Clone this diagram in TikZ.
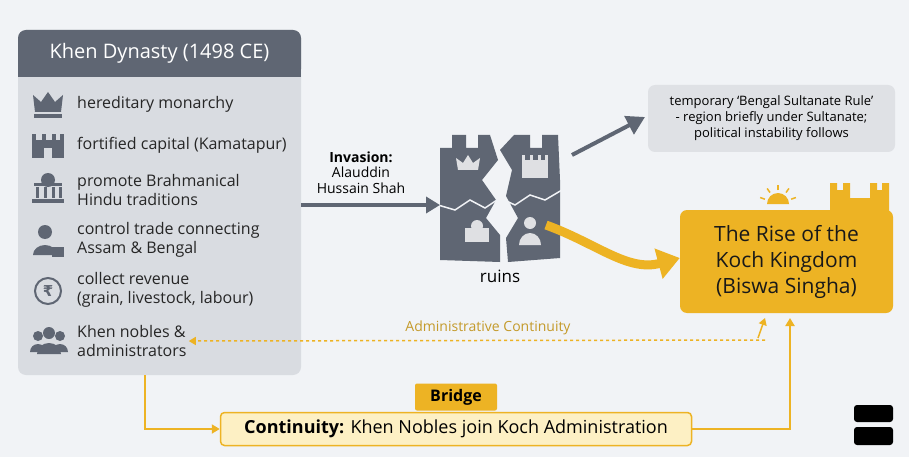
\documentclass[tikz,border=0pt]{standalone}
\usepackage{fontspec}
\setmainfont{Open Sans}
\newfontfamily\symfont{DejaVu Sans}
\usetikzlibrary{positioning,arrows.meta,calc}
\definecolor{bgc}{HTML}{F1F3F6}
\definecolor{slate}{HTML}{5F6673}
\definecolor{panel}{HTML}{D9DCE1}
\definecolor{gold}{HTML}{EDB324}
\definecolor{goldtxt}{HTML}{C49A2A}
\definecolor{cream}{HTML}{FDF0C4}
\definecolor{note}{HTML}{DFE1E5}
\tikzset{
  item/.style = {anchor = west, align = left, font = \fontsize{16}{19}\selectfont, text = black!85, inner sep = 2pt},
  icon/.style = {fill = slate, draw = none},
  goldarrow/.style = {draw = gold, line width = 2pt, -{Triangle[length = 8pt, width = 9pt]}},
}
\begin{document}
\begin{tikzpicture}[x = 1pt, y = -1pt]
\fill[bgc] (0,0) rectangle (909,457);

%%% Khen panel
\fill[panel, rounded corners = 8pt] (18,30) rectangle (301,375);
\fill[slate, rounded corners = 8pt] (18,30) rectangle (301,77);
\fill[slate] (18,60) rectangle (301,77);
\node[text = white, font = \fontsize{20}{23}\selectfont] (title) at (159.5,53) {Khen Dynasty (1498 CE)};

\node[item] (crown)   at (75,104) {hereditary monarchy};
\node[item] (capital) at (75,145) {fortified capital (Kamatapur)};
\node[item] (hindu)   at (75,190) {promote Brahmanical\\Hindu traditions};
\node[item] (trade)   at (75,240) {control trade connecting\\Assam \& Bengal};
\node[item] (revenue) at (75,290) {collect revenue\\(grain, livestock, labour)};
\node[item] (nobles)  at (75,341) {Khen nobles \&\\administrators};

%% icons
\fill[icon] (35,112) -- (33,95) -- (41,102) -- (48,92) -- (55,102) -- (63,95) -- (61,112) -- cycle;
\fill[icon] (34,114) rectangle (62,118);
\fill[icon] (32,158) rectangle (64,140);
\foreach \i in {32,42,52,60} \fill[icon] (\i,140) rectangle (\i+4,134);
\fill[panel] (44,158) rectangle (52,148);
\fill[icon] (48,180) circle (7);
\fill[icon] (34,183) rectangle (62,186);
\foreach \i in {36,44,52,59} \fill[icon] (\i,187) rectangle (\i+3,198);
\fill[icon] (32,199) rectangle (64,203);
\fill[icon] (45,232) circle (7);
\fill[icon] (33,255) arc (180:360:12 and 10) -- cycle;
\fill[icon] (52,247) rectangle (64,257);
\draw[slate, line width = 2pt] (48,291) circle (13);
\node[text = slate, font = \fontsize{15}{15}\selectfont\symfont\bfseries] at (48,291) {₹};
\fill[icon] (49,333) circle (6);
\fill[icon] (38,336) circle (5);
\fill[icon] (60,336) circle (5);
\fill[icon] (37,354) arc (180:360:12 and 11) -- cycle;
\fill[icon] (30,352) arc (180:360:8 and 8) -- cycle;
\fill[icon] (52,352) arc (180:360:8 and 8) -- cycle;

%%% Invasion
\coordinate (inv) at (301,205);
\node[font = \fontsize{14}{16}\selectfont\bfseries] (invlbl) at (361,157) {Invasion:};
\node[font = \fontsize{14}{16}\selectfont, align = center, below = -3pt of invlbl] (invname) {Alauddin\\Hussain Shah};

%%% Ruins
\fill[slate] (440,260) -- (440,148) -- (452,148) -- (452,135) -- (466,135) -- (466,148) -- (478,148) -- (478,135) -- (490,135) -- (498,160) -- (482,180) -- (496,200) -- (486,218) -- (500,235) -- (500,262) -- cycle;
\fill[slate] (508,262) -- (506,238) -- (518,218) -- (506,196) -- (512,170) -- (500,150) -- (514,135) -- (530,135) -- (530,148) -- (542,148) -- (542,135) -- (558,135) -- (560,180) -- (560,258) -- cycle;
\fill[white!80!slate] (458,170) -- (456,158) -- (463,163) -- (468,155) -- (473,163) -- (480,158) -- (478,170) -- cycle;
\fill[white!80!slate] (522,178) rectangle (548,160);
\foreach \i in {522,530,538,545} \fill[white!80!slate] (\i,160) rectangle (\i+3,155);
\fill[white!80!slate] (465,242) rectangle (489,228);
\fill[white!80!slate] (477,226) circle (6);
\fill[white!80!slate] (530,223) circle (6);
\fill[white!80!slate] (519,245) arc (180:360:11 and 12) -- cycle;
\draw[bgc, line width = 1.5pt] (438,205) -- (455,210) -- (470,200) -- (485,208) -- (500,198) -- (515,205) -- (530,195) -- (545,200) -- (562,190);
\node[font = \fontsize{17}{19}\selectfont] (ruins) at (500,276) {ruins};
\coordinate (ruinsin) at (440,205);
\draw[slate, line width = 4pt, -{Triangle[length = 14pt, width = 16pt]}] (inv) -- (ruinsin);

%%% Sultanate note
\node[fill = note, rounded corners = 7pt, align = center, minimum width = 247pt, minimum height = 67pt, font = \fontsize{13}{16}\selectfont] (sultan) at (771.5,118.5) {temporary ‘Bengal Sultanate Rule’\\- region briefly under Sultanate;\\political instability follows};
\coordinate (ruinsup) at (572,155);
\draw[slate, line width = 4pt, -{Triangle[length = 18pt, width = 20pt]}] (ruinsup) -- (645,117);

%%% Koch kingdom
\node[fill = gold, rounded corners = 7pt, align = center, minimum width = 213pt, minimum height = 103pt, font = \fontsize{21}{26}\selectfont, text = black!90] (koch) at (786.5,261.5) {The Rise of the\\Koch Kingdom\\(Biswa Singha)};
\fill[gold] (767,204) arc (180:360:11) -- cycle;
\foreach \a in {-20,-55,-90,-125,-160} \draw[gold, line width = 1.5pt] ($(778,204)+(\a:14)$) -- ($(778,204)+(\a:19)$);
\fill[gold] (830,211) -- (830,183) -- (837,183) -- (837,190) -- (843,190) -- (843,183) -- (850,183) -- (850,198) -- (870,198) -- (870,183) -- (877,183) -- (877,190) -- (882,190) -- (882,183) -- (889,183) -- (889,211) -- cycle;
\coordinate (curvestart) at (546,225);
\draw[gold, line width = 9pt, -{Triangle[length = 22pt, width = 30pt]}] (curvestart) to[out = -20, in = 195] (koch.west |- 0,258);

%%% Administrative continuity
\coordinate (adminup) at (765,318);
\draw[gold, line width = 1.5pt, dashed, -{Triangle[length = 7pt, width = 8pt]}] (765,340) -- (nobles.east |- 0,341);
\draw[gold, line width = 1.5pt, -{Triangle[length = 7pt, width = 8pt]}] (758,338) -- (adminup);
\node[text = goldtxt, font = \fontsize{14}{16}\selectfont] (adminlbl) at (488,328) {Administrative Continuity};

%%% Bridge
\node[fill = cream, draw = gold, line width = 1.5pt, rounded corners = 4pt, minimum width = 471pt, minimum height = 33pt, font = \fontsize{18}{21}\selectfont] (bridge) at (456,429) {\textbf{Continuity:} Khen Nobles join Koch Administration};
\node[fill = gold, minimum width = 82pt, minimum height = 27pt, font = \fontsize{16}{19}\selectfont\bfseries, rounded corners = 2pt] (bridgetab) at (456,397) {Bridge};
\coordinate (panelfoot) at (145,375);
\draw[goldarrow] (panelfoot) |- (bridge.west);
\draw[goldarrow] (bridge.east) -| (790,318);

%%% corner mark
\fill[black, rounded corners = 3pt] (854,405) rectangle (893,422);
\fill[black, rounded corners = 3pt] (854,427) rectangle (893,445);
\end{tikzpicture}
\end{document}
